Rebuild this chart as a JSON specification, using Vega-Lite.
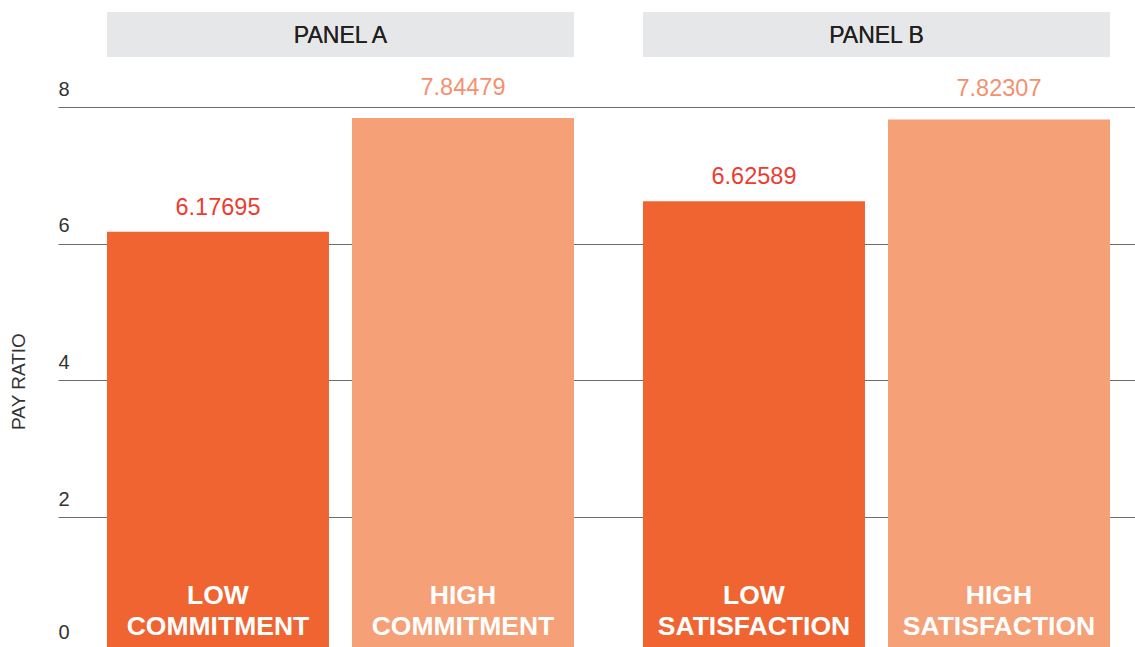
{
  "$schema": "https://vega.github.io/schema/vega-lite/v6.json",
  "width": 1077,
  "height": 647,
  "autosize": {"type": "none"},
  "padding": {"left": 58, "top": 0, "right": 0, "bottom": 0},
  "config": {
    "view": {"stroke": null},
    "font": "Liberation Sans"
  },
  "data": {
    "values": [
      {"panel": "PANEL A", "level": "Low", "value": 6.17695, "label": "LOW\nCOMMITMENT"},
      {"panel": "PANEL A", "level": "High", "value": 7.84479, "label": "HIGH\nCOMMITMENT"},
      {"panel": "PANEL B", "level": "Low", "value": 6.62589, "label": "LOW\nSATISFACTION"},
      {"panel": "PANEL B", "level": "High", "value": 7.82307, "label": "HIGH\nSATISFACTION"}
    ]
  },
  "encoding": {
    "x": {
      "field": "panel",
      "type": "nominal",
      "sort": ["PANEL A", "PANEL B"],
      "scale": {"paddingInner": 0.1287, "paddingOuter": 0.069, "align": 0.662},
      "axis": null
    }
  },
  "layer": [
    {
      "mark": {"type": "rect", "color": "#E6E7E8"},
      "encoding": {
        "y": {"datum": 9.395, "type": "quantitative", "scale": {"domain": [0.098, 9.571], "nice": false, "zero": false}},
        "y2": {"datum": 8.737}
      }
    },
    {
      "mark": {"type": "text", "fontSize": 23, "color": "#231F20", "baseline": "alphabetic"},
      "encoding": {
        "text": {"field": "panel"},
        "y": {"datum": 8.937, "type": "quantitative"}
      }
    },
    {
      "mark": {"type": "bar", "clip": true},
      "encoding": {
        "xOffset": {"field": "level", "type": "nominal", "sort": ["Low", "High"], "scale": {"paddingInner": 0.0939, "paddingOuter": 0}},
        "y": {
          "field": "value",
          "type": "quantitative",
          "title": "PAY RATIO",
          "axis": {
            "values": [0.12, 2, 4, 6, 8],
            "labelExpr": "datum.value < 1 ? '0' : format(datum.value, 'd')",
            "grid": true,
            "gridColor": "#6D6E71",
            "gridWidth": 1.2,
            "gridOpacity": {"condition": {"test": "datum.value < 1", "value": 0}, "value": 1},
            "domain": false,
            "ticks": false,
            "labelAlign": "left",
            "labelBaseline": "alphabetic",
            "labelPadding": 0,
            "labelOffset": {"condition": {"test": "datum.value < 1", "value": -7}, "value": -12},
            "labelFontSize": 20,
            "labelColor": "#333333",
            "labelFont": "Liberation Sans",
            "titleFontSize": 19,
            "titleFontWeight": "normal",
            "titleColor": "#333333",
            "titleAngle": -90,
            "titleAlign": "center",
            "titleBaseline": "middle",
            "titleX": -40,
            "titleY": 381
          }
        },
        "color": {
          "field": "level",
          "type": "nominal",
          "scale": {"domain": ["Low", "High"], "range": ["#F06432", "#F5A077"]},
          "legend": null
        }
      }
    },
    {
      "transform": [{"filter": "datum.level === 'Low'"}],
      "mark": {"type": "text", "fontSize": 23.5, "color": "#EE3B30", "baseline": "alphabetic", "dy": -17},
      "encoding": {
        "xOffset": {"field": "level", "type": "nominal", "sort": ["Low", "High"], "scale": {"paddingInner": 0.0939, "paddingOuter": 0}},
        "y": {"field": "value", "type": "quantitative"},
        "text": {"field": "value", "type": "quantitative", "format": ".5f"}
      }
    },
    {
      "transform": [{"filter": "datum.level === 'High'"}],
      "mark": {"type": "text", "fontSize": 23.5, "color": "#F5906F", "baseline": "alphabetic", "dy": -23},
      "encoding": {
        "xOffset": {"field": "level", "type": "nominal", "sort": ["Low", "High"], "scale": {"paddingInner": 0.0939, "paddingOuter": 0}},
        "y": {"field": "value", "type": "quantitative"},
        "text": {"field": "value", "type": "quantitative", "format": ".5f"}
      }
    },
    {
      "mark": {"type": "text", "fontSize": 26.5, "fontWeight": "bold", "color": "#FFFFFF", "baseline": "alphabetic", "lineBreak": "\n", "lineHeight": 31, "dy": -50},
      "encoding": {
        "xOffset": {"field": "level", "type": "nominal", "sort": ["Low", "High"], "scale": {"paddingInner": 0.0939, "paddingOuter": 0}},
        "y": {"datum": 0, "type": "quantitative"},
        "text": {"field": "label"}
      }
    }
  ]
}
